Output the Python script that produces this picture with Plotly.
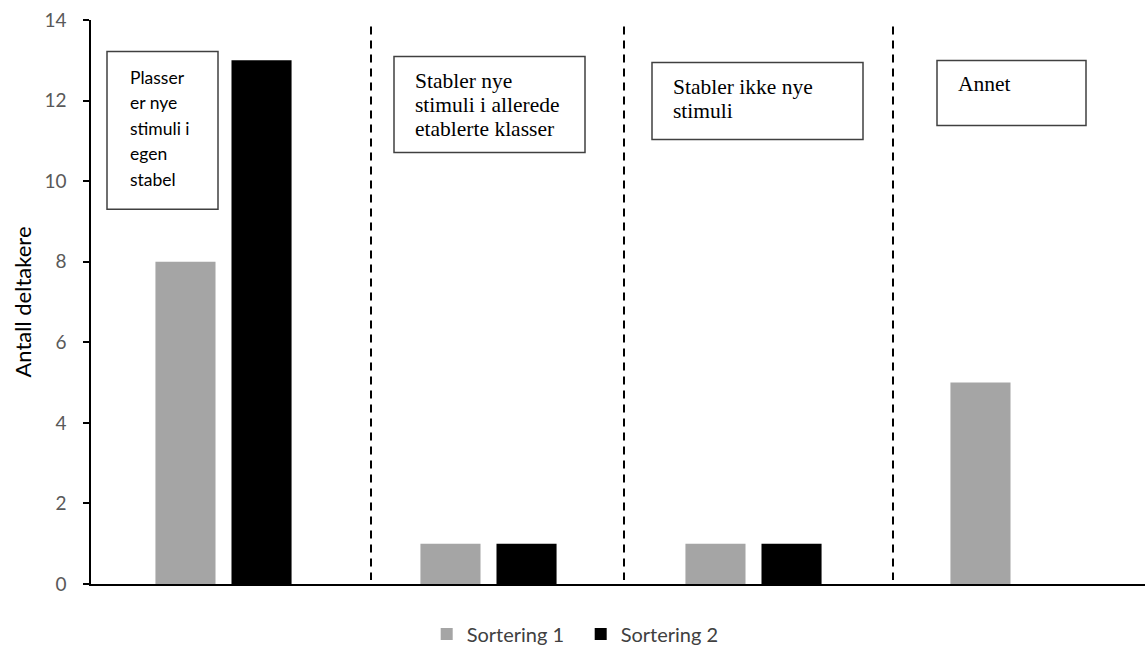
import plotly.graph_objects as go

# Sorting categories (shown in the boxed labels above each group)
categories = ["Plasserer nye stimuli i egen stabel",
              "Stabler nye stimuli i allerede etablerte klasser",
              "Stabler ikke nye stimuli",
              "Annet"]
box_lines = [["Plasser", "er nye", "stimuli i", "egen", "stabel"],
             ["Stabler nye", "stimuli i allerede", "etablerte klasser"],
             ["Stabler ikke nye", "stimuli"],
             ["Annet"]]
sortering_1 = [8, 1, 1, 5]
sortering_2 = [13, 1, 1, 0]
y_ticks = [0, 2, 4, 6, 8, 10, 12, 14]

W, H = 1145, 652
L, R, T, B = 91, 0, 19.5, 68
plot_w = W - L - R
plot_h = H - T - B


def px_x(px):
    return (px - L) / plot_w


def px_y(py):
    return (H - B - py) / plot_h


fig = go.Figure()
fig.add_trace(go.Bar(name="Sortering 1", x=categories, y=sortering_1,
                     marker=dict(color="#A5A5A5", line=dict(width=0))))
fig.add_trace(go.Bar(name="Sortering 2", x=categories, y=sortering_2,
                     marker=dict(color="#000000", line=dict(width=0))))

# Dashed separators between the groups
for px in [371, 624, 893]:
    fig.add_shape(type="line", xref="paper", yref="paper",
                  x0=px_x(px), x1=px_x(px), y0=px_y(26), y1=px_y(580),
                  line=dict(color="black", width=2, dash="8px,6px"))

# Boxed labels: rectangle (left, top, right, bottom), text left edge,
# first text line centre, line step and font, all in pixels
boxes = [
    dict(rect=(107, 51, 218, 209), tx=128, ty=77, step=25.5, font="Lato", size=17.5),
    dict(rect=(394, 56, 585, 152), tx=413, ty=81, step=24, font="Liberation Serif", size=21.5),
    dict(rect=(652, 62, 863, 139), tx=671, ty=87, step=24, font="Liberation Serif", size=21.5),
    dict(rect=(937, 60, 1086, 125), tx=956, ty=84, step=24, font="Liberation Serif", size=21.5),
]
for b, lines in zip(boxes, box_lines):
    x0, y0, x1, y1 = b["rect"]
    fig.add_shape(type="rect", xref="paper", yref="paper",
                  x0=px_x(x0), x1=px_x(x1), y0=px_y(y0), y1=px_y(y1),
                  line=dict(color="#404040", width=1.5), fillcolor="white",
                  layer="above")
    for i, line in enumerate(lines):
        fig.add_annotation(xref="paper", yref="paper",
                           x=px_x(b["tx"]), y=px_y(b["ty"] + i * b["step"]),
                           xanchor="left", yanchor="middle", align="left",
                           text=line, showarrow=False,
                           font=dict(family=b["font"], size=b["size"], color="black"))

fig.update_layout(
    width=W, height=H,
    margin=dict(l=L, r=R, t=T, b=B, pad=0, autoexpand=False),
    plot_bgcolor="white", paper_bgcolor="white",
    barmode="group", bargap=0.426, bargroupgap=0.21,
    showlegend=True,
    legend=dict(orientation="h", x=0.3185, xanchor="left", y=-0.054, yanchor="top",
                font=dict(family="Lato", size=20, color="#404040"),
                itemwidth=30, entrywidth=109, entrywidthmode="pixels",
                traceorder="normal"),
    font=dict(family="Lato"),
)
fig.update_xaxes(range=[-0.5, -0.5 + plot_w / 265], showticklabels=False,
                 ticks="", showgrid=False, zeroline=False,
                 showline=True, linecolor="black", linewidth=1.5)
fig.update_yaxes(range=[0, 14], tickvals=y_ticks, ticks="outside", ticklen=6,
                 tickcolor="black", tickwidth=1.5, showgrid=False, zeroline=False,
                 showline=True, linecolor="black", linewidth=1.5,
                 tickfont=dict(family="Lato", size=19, color="#595959"),
                 ticklabelstandoff=13,
                 title=dict(text="Antall deltakere", standoff=7,
                            font=dict(family="Lato", size=22, color="black")))

fig.write_html("out.html")
